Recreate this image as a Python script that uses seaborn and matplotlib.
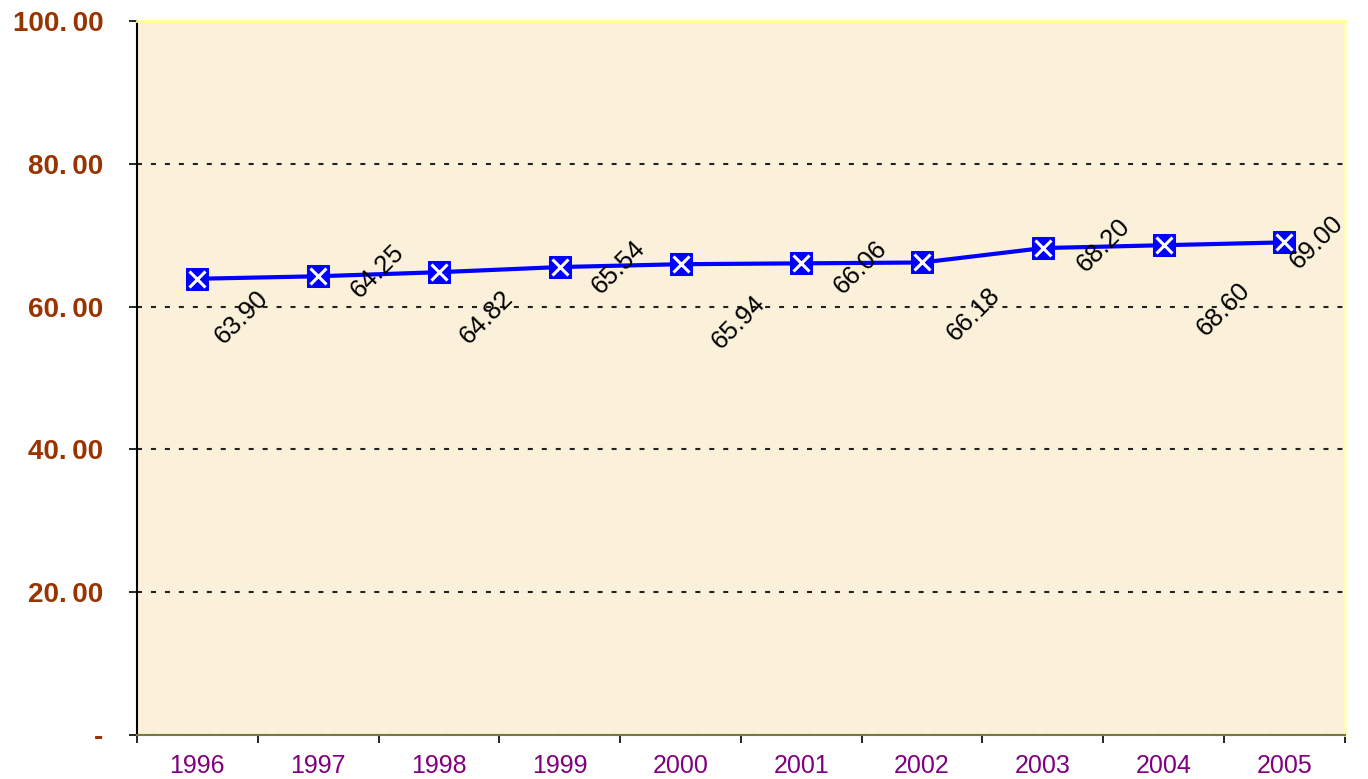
import seaborn as sns
import matplotlib.pyplot as plt
import matplotlib.ticker as mticker
import numpy as np
import pandas as pd

sns.set_style('white')
plt.rcParams['font.family'] = ['Liberation Sans', 'DejaVu Sans']

# data
years = ['1996', '1997', '1998', '1999', '2000', '2001', '2002', '2003', '2004', '2005']
values = [63.90, 64.25, 64.82, 65.54, 65.94, 66.06, 66.18, 68.20, 68.60, 69.00]
y_ticks = [0, 20, 40, 60, 80, 100]

df = pd.DataFrame({'pos': np.arange(len(years)), 'value': values})

fig = plt.figure(figsize=(13.68, 7.79), dpi=100)
ax = fig.add_axes([0.1001, 0.0565, 0.8830, 0.9165])
ax.set_facecolor('#FBF1DA')

sns.lineplot(data=df, x='pos', y='value', ax=ax, color='#0000FF', linewidth=3,
             marker='s', markersize=15.5, markeredgecolor='#0000FF',
             markerfacecolor='#0000FF', zorder=4)
ax.plot(df['pos'], df['value'], linestyle='none', marker='x', markersize=11,
        markeredgewidth=2.2, color='white', zorder=5)

# data labels, rotated, alternating like the original
offsets = [(44, -38), (59, 5), (48, -45), (59, 0), (58, -58),
           (59, -4), (51, -52), (61, 3), (60, -64), (32, 0)]
for i, v in enumerate(values):
    dx, dy = offsets[i]
    ax.annotate(f'{v:.2f}', xy=(i, v), xytext=(dx * 0.72, dy * 0.72),
                textcoords='offset points', rotation=45, fontsize=18.5,
                ha='center', va='center', color='black', zorder=6,
                rotation_mode='anchor')

ax.set_xlim(-0.5, len(years) - 0.5)
ax.set_ylim(0, 100)

ax.set_xticks(np.arange(len(years)))
ax.set_xticklabels(years)
ax.set_xticks(np.arange(len(years) + 1) - 0.5, minor=True)
ax.tick_params(axis='x', which='major', length=0, pad=14, labelsize=18,
               labelcolor='#800080')
ax.tick_params(axis='x', which='minor', length=6, width=1.2, color='black',
               direction='out', bottom=True)

ax.set_yticks(y_ticks)
ax.yaxis.set_major_formatter(mticker.FuncFormatter(
    lambda v, p: '-' if v == 0 else f'{v:.2f}'.replace('.', '.\u2009')))
ax.tick_params(axis='y', which='major', length=6, width=1.2, color='black',
               direction='out', left=True, pad=18, labelsize=20,
               labelcolor='#993300')
for lab in ax.get_yticklabels():
    lab.set_fontweight('bold')

ax.yaxis.grid(True, color='#222222', linestyle=(0, (2.4, 4.3)), linewidth=1.5)
ax.xaxis.grid(False)
ax.set_axisbelow(True)

ax.spines['left'].set_color('black')
ax.spines['left'].set_linewidth(1.5)
ax.spines['bottom'].set_color('#777744')
ax.spines['bottom'].set_linewidth(1.5)
ax.spines['top'].set_color('#FFFF99')
ax.spines['top'].set_linewidth(2)
ax.spines['right'].set_color('#FFFFBB')
ax.spines['right'].set_linewidth(2)

ax.set_xlabel('')
ax.set_ylabel('')

fig.savefig('out.png', dpi=100)
